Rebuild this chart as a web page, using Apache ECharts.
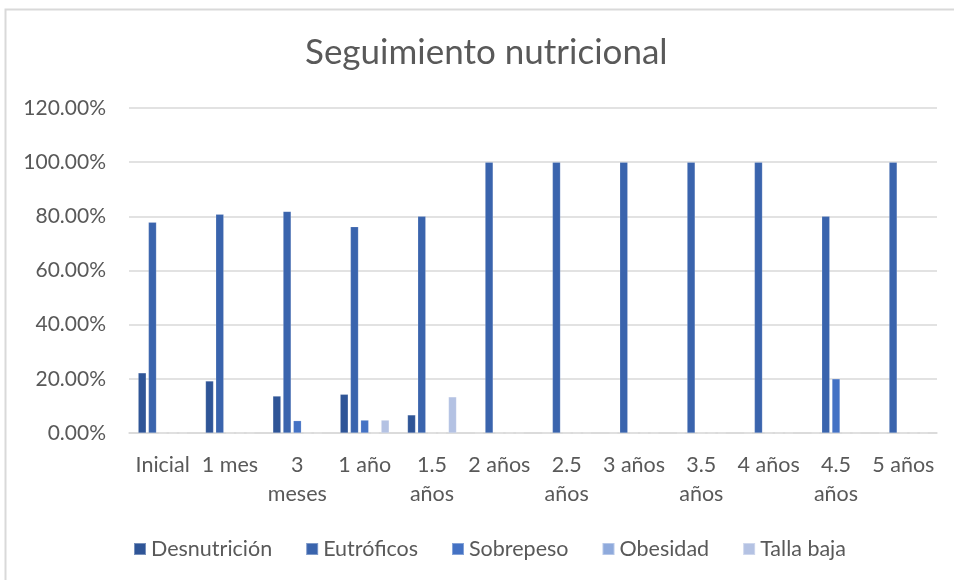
<!DOCTYPE html>
<html>
<head>
<meta charset="utf-8">
<script src="https://cdn.jsdelivr.net/npm/echarts@6/dist/echarts.min.js"></script>
<style>
  html, body { margin: 0; padding: 0; background: #ffffff; }
  #chart { width: 954px; height: 580px; }
</style>
</head>
<body>
<div id="chart"></div>
<script>
// Follow-up periods (x axis)
const categories = ['Inicial', '1 mes', '3\nmeses', '1 año', '1.5\naños', '2 años',
  '2.5\naños', '3 años', '3.5\naños', '4 años', '4.5\naños', '5 años'];

// Share of patients per nutritional status, in percent
const desnutricion = [22.2, 19.2, 13.64, 14.29, 6.67, 0, 0, 0, 0, 0, 0, 0];
const eutroficos   = [77.8, 80.8, 81.82, 76.19, 80.0, 100, 100, 100, 100, 100, 80, 100];
const sobrepeso    = [0, 0, 4.55, 4.76, 0, 0, 0, 0, 0, 0, 20, 0];
const obesidad     = [0, 0, 0, 0, 0, 0, 0, 0, 0, 0, 0, 0];
const tallaBaja    = [0, 0, 0, 4.76, 13.33, 0, 0, 0, 0, 0, 0, 0];

const seriesNames = ['Desnutrición', 'Eutróficos', 'Sobrepeso', 'Obesidad', 'Talla baja'];
const seriesData = [desnutricion, eutroficos, sobrepeso, obesidad, tallaBaja];
const seriesColors = ['#2F5597', '#3A64AD', '#4472C4', '#8FAADC', '#B4C2E3'];

const yTicks = { min: 0, max: 120, interval: 20 };

const FONT = 'Lato';
const TEXT = '#595959';

const chart = echarts.init(document.getElementById('chart'), null, { renderer: 'canvas' });

chart.setOption({
  backgroundColor: '#ffffff',
  animation: false,
  textStyle: { fontFamily: FONT },
  graphic: [{
    type: 'rect',
    shape: { x: 5.5, y: 9.5, width: 1000, height: 1000 },
    style: { fill: 'none', stroke: '#D9D9D9', lineWidth: 2 },
    silent: true
  }],
  title: {
    text: 'Seguimiento nutricional',
    left: 300,
    top: 30,
    textStyle: { fontFamily: FONT, fontSize: 35, fontWeight: 'normal', color: TEXT }
  },
  legend: {
    bottom: 15,
    left: 128,
    itemWidth: 12,
    itemHeight: 12,
    itemGap: 33,
    icon: 'rect',
    textStyle: { fontFamily: FONT, fontSize: 21.5, color: TEXT, padding: [0, 0, 0, 0] },
    data: seriesNames
  },
  grid: { left: 129, right: 17, top: 108, bottom: 147 },
  xAxis: {
    type: 'category',
    data: categories,
    axisLine: { lineStyle: { color: '#D9D9D9', width: 1.5 } },
    axisTick: { show: false },
    axisLabel: { fontFamily: FONT, fontSize: 21.5, color: TEXT, margin: 18, lineHeight: 29, interval: 0 }
  },
  yAxis: {
    type: 'value',
    min: yTicks.min,
    max: yTicks.max,
    interval: yTicks.interval,
    axisLine: { show: false },
    axisTick: { show: false },
    splitLine: { lineStyle: { color: '#D9D9D9', width: 1.5 } },
    axisLabel: {
      fontFamily: FONT, fontSize: 21, color: TEXT, margin: 23,
      formatter: v => v.toFixed(2) + '%'
    }
  },
  series: seriesNames.map((name, i) => ({
    name,
    type: 'bar',
    data: seriesData[i],
    barWidth: 8,
    barGap: '28%',
    itemStyle: { color: seriesColors[i], borderColor: 'rgba(255,255,255,0.35)', borderWidth: 0.5 }
  }))
});
</script>
</body>
</html>
